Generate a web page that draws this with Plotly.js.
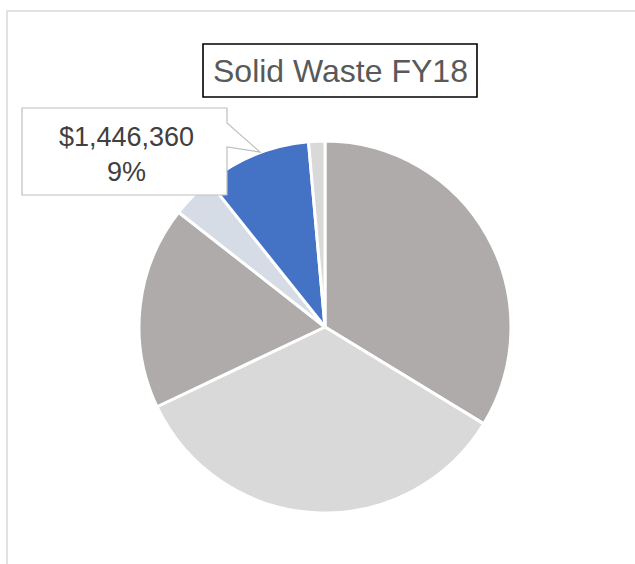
<!DOCTYPE html>
<html>
<head>
<meta charset="utf-8">
<script src="https://cdn.plot.ly/plotly-3.0.1.min.js"></script>
<style>html,body{margin:0;padding:0;background:#fff;}#chart{width:635px;height:564px;}</style>
</head>
<body>
<div id="chart"></div>
<script>
// Data (categories unnamed in the source)
var categories = ["Slice 1", "Slice 2", "Slice 3", "Slice 4", "Slice 5", "Slice 6"];
var values = [5240000, 5320000, 2740000, 575000, 1446360, 220000];
var colors = ["#AFABAB", "#D9D9D9", "#AFABAB", "#D6DCE5", "#4472C4", "#D9D9D9"];
var chartTitle = "Solid Waste FY18";
var labelIndex = 4;

var W = 635, H = 564;
function px(x) { return x / W; }
function py(y) { return 1 - y / H; }

var cx = 325, cy = 327, r = 186;

var total = values.reduce(function (a, b) { return a + b; }, 0);
var pct = Math.round(values[labelIndex] / total * 100);
var labelText = "$" + values[labelIndex].toLocaleString("en-US") + "<br>" + pct + "%";

var trace = {
  type: "pie",
  labels: categories,
  values: values,
  sort: false,
  direction: "clockwise",
  rotation: 0,
  marker: { colors: colors, line: { color: "#FFFFFF", width: 3 } },
  textinfo: "none",
  hoverinfo: "none",
  showlegend: false,
  domain: { x: [px(cx - r), px(cx + r)], y: [py(cy + r), py(cy - r)] }
};

var calloutPath = "M " + px(22) + "," + py(108) +
  " L " + px(227) + "," + py(108) +
  " L " + px(227) + "," + py(123) +
  " L " + px(260) + "," + py(152) +
  " L " + px(227) + "," + py(147) +
  " L " + px(227) + "," + py(195) +
  " L " + px(22) + "," + py(195) + " Z";

var layout = {
  width: W, height: H,
  margin: { l: 0, r: 0, t: 0, b: 0 },
  paper_bgcolor: "#FFFFFF",
  plot_bgcolor: "#FFFFFF",
  shapes: [
    { type: "rect", xref: "paper", yref: "paper", x0: px(7), x1: 1.1, y0: -0.1, y1: py(11),
      line: { color: "#D9D9D9", width: 1.5 }, fillcolor: "rgba(0,0,0,0)", layer: "below" },
    { type: "path", xref: "paper", yref: "paper", path: calloutPath,
      fillcolor: "#FFFFFF", line: { color: "#BFBFBF", width: 1.2 }, layer: "above" },
    { type: "rect", xref: "paper", yref: "paper", x0: px(203), x1: px(477), y0: py(97), y1: py(44),
      fillcolor: "#FFFFFF", line: { color: "#000000", width: 1.6 }, layer: "above" }
  ],
  annotations: [
    { text: chartTitle, xref: "paper", yref: "paper", x: px(340), y: py(71),
      xanchor: "center", yanchor: "middle", showarrow: false,
      font: { family: "Liberation Sans, Arial, sans-serif", size: 32, color: "#595959" } },
    { text: labelText, xref: "paper", yref: "paper", x: px(126), y: py(154),
      xanchor: "center", yanchor: "middle", showarrow: false,
      font: { family: "Liberation Sans, Arial, sans-serif", size: 27, color: "#404040" } }
  ]
};

Plotly.newPlot("chart", [trace], layout, { staticPlot: true, displayModeBar: false });
</script>
</body>
</html>
